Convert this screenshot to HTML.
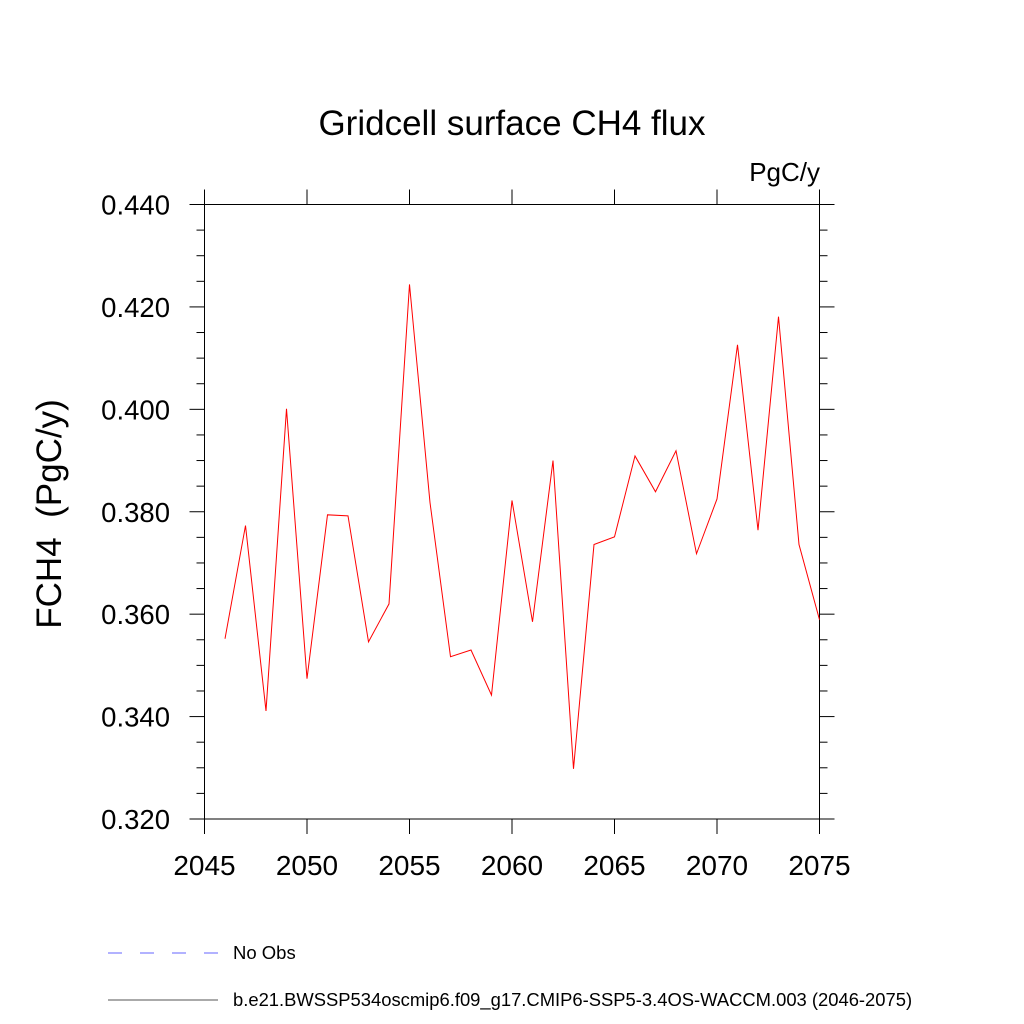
<!DOCTYPE html>
<html><head><meta charset="utf-8"><style>body{margin:0;background:#fff}svg{display:block}text{font-family:"Liberation Sans",sans-serif}</style></head>
<body>
<svg id="chart" width="1024" height="1024" viewBox="0 0 1024 1024">
<text x="512" y="135" font-size="35" text-anchor="middle">Gridcell surface CH4 flux</text>
<text x="820" y="181" font-size="26" text-anchor="end">PgC/y</text>
<text transform="translate(61,514) rotate(-90)" font-size="35" text-anchor="middle">FCH4&#160;&#160;(PgC/y)</text>
<g id="axes"></g>
<polyline id="series" fill="none" stroke="#ff0000" stroke-width="1"/>
<line x1="108" y1="953" x2="218" y2="953" stroke="#6666ff" stroke-width="1" stroke-dasharray="14,18"/>
<text x="233" y="959" font-size="18.5">No Obs</text>
<line x1="108" y1="1000" x2="218" y2="1000" stroke="#555" stroke-width="1"/>
<text x="233" y="1006" font-size="18.4">b.e21.BWSSP534oscmip6.f09_g17.CMIP6-SSP5-3.4OS-WACCM.003 (2046-2075)</text>
</svg>
<script>
const years=[2046,2047,2048,2049,2050,2051,2052,2053,2054,2055,2056,2057,2058,2059,2060,2061,2062,2063,2064,2065,2066,2067,2068,2069,2070,2071,2072,2073,2074,2075];
const values=[0.3552,0.3773,0.3411,0.4001,0.3474,0.3794,0.3792,0.3546,0.3620,0.4244,0.3818,0.3517,0.3530,0.3442,0.3822,0.3585,0.3900,0.3298,0.3736,0.3751,0.3909,0.3839,0.3919,0.3718,0.3825,0.4126,0.3764,0.4181,0.3736,0.3589];
const xTicks=[2045,2050,2055,2060,2065,2070,2075];
const yTicks=["0.320","0.340","0.360","0.380","0.400","0.420","0.440"];
const X0=204.5,X1=819.5,Y0=819,Y1=204.5;
const xs=v=>X0+(v-2045)/30*(X1-X0);
const ys=v=>Y0-(v-0.32)/0.12*(Y0-Y1);
const NS='http://www.w3.org/2000/svg';
const g=document.getElementById('axes');
function mk(tag,attrs){const e=document.createElementNS(NS,tag);for(const k in attrs)e.setAttribute(k,attrs[k]);g.appendChild(e);return e;}
const frame=mk('rect',{x:X0,y:Y1,width:X1-X0,height:Y0-Y1,fill:'none',stroke:'#000','stroke-width':1});


xTicks.forEach(t=>{const x=xs(t);
 const a=mk('line',{x1:x,y1:Y0,x2:x,y2:Y0+15,stroke:'#000'});
 
 
 const b=mk('line',{x1:x,y1:Y1,x2:x,y2:Y1-15,stroke:'#000'});
 
 
 const l=mk('text',{x:x,y:875,'font-size':28,'text-anchor':'middle'});l.textContent=t;
 
 
});
for(let i=0;i<=24;i++){const v=0.32+i*0.005;const y=ys(v);const major=i%4===0;const len=major?15:8;
 const a=mk('line',{x1:X0-len,y1:y,x2:X0,y2:y,stroke:'#000'});
 
 
 const b=mk('line',{x1:X1,y1:y,x2:X1+len,y2:y,stroke:'#000'});
 
 
 if(major){const l=mk('text',{x:170,y:y+10,'font-size':27.5,'text-anchor':'end'});l.textContent=yTicks[i/4];
 
 }
}
document.getElementById('series').setAttribute('points',years.map((yr,i)=>xs(yr)+','+ys(values[i])).join(' '));
</script>
</body></html>
